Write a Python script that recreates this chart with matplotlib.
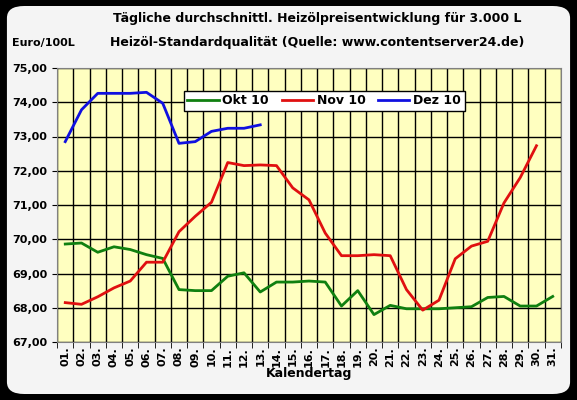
import matplotlib
matplotlib.use("Agg")
import matplotlib.pyplot as plt
from matplotlib.patches import FancyBboxPatch

days = [f"{d:02d}." for d in range(1, 32)]
okt = [69.86, 69.89, 69.62, 69.78, 69.70, 69.55, 69.44, 68.53, 68.50, 68.50, 68.92, 69.02, 68.46, 68.75,
       68.75, 68.78, 68.75, 68.05, 68.50, 67.80, 68.07, 67.97, 67.97, 67.97, 68.00, 68.03, 68.30, 68.33,
       68.05, 68.05, 68.33]
nov = [68.15, 68.10, 68.32, 68.58, 68.78, 69.33, 69.33, 70.22, 70.67, 71.08, 72.24, 72.15, 72.17, 72.15,
       71.50, 71.15, 70.18, 69.52, 69.52, 69.55, 69.52, 68.53, 67.93, 68.22, 69.43, 69.80, 69.94, 71.06,
       71.80, 72.73]
dez = [72.85, 73.78, 74.26, 74.26, 74.26, 74.29, 73.97, 72.80, 72.85, 73.15, 73.24, 73.24, 73.34]

fig = plt.figure(figsize=(5.77, 4.0), dpi=100)
fig.patch.set_facecolor("black")
fig.patches.append(FancyBboxPatch((0.012, 0.015), 0.976, 0.97, boxstyle="round,pad=0,rounding_size=0.03",
                                  transform=fig.transFigure, facecolor="#f4f4f4", edgecolor="none", zorder=-10))
ax = fig.add_axes([0.099, 0.145, 0.873, 0.685])
ax.set_zorder(5)
ax.set_facecolor("#ffffc0")
x = list(range(1, 32))
ax.plot(x[:len(okt)], okt, color="#108010", lw=2, label="Okt 10")
ax.plot(x[:len(nov)], nov, color="#e01010", lw=2, label="Nov 10")
ax.plot(x[:len(dez)], dez, color="#1010e0", lw=2, label="Dez 10")
ax.set_xlim(0.5, 31.5)
ax.set_ylim(67, 75)
ax.set_yticks([67 + i for i in range(9)])
ax.set_yticklabels([f"{67+i},00" for i in range(9)], fontsize=8, fontweight="bold")
ax.set_xticks(x)
ax.set_xticklabels(days, rotation=90, fontsize=8, fontweight="bold")
ax.set_xticks([i + 0.5 for i in range(0, 32)], minor=True)
ax.tick_params(axis="x", which="major", length=0)
ax.tick_params(axis="x", which="minor", length=4)
ax.grid(True, axis="x", which="minor", color="black", lw=1)
ax.grid(True, axis="y", which="major", color="black", lw=1)
ax.set_axisbelow(True)
for s in ax.spines.values():
    s.set_color("#808080")
ax.set_xlabel("Kalendertag", fontsize=9, fontweight="bold", labelpad=0)
leg = ax.legend(loc="upper center", bbox_to_anchor=(0.53, 0.94), ncol=3, frameon=True, fancybox=False,
                edgecolor="black", prop={"weight": "bold", "size": 9}, handlelength=2.5,
                borderpad=0.3, columnspacing=1.0, handletextpad=0.3, framealpha=1)
leg.get_frame().set_linewidth(1)
fig.text(0.55, 0.945, "Tägliche durchschnittl. Heizölpreisentwicklung für 3.000 L", ha="center",
         fontsize=9, fontweight="bold")
fig.text(0.55, 0.885, "Heizöl-Standardqualität (Quelle: www.contentserver24.de)", ha="center",
         fontsize=9, fontweight="bold")
fig.text(0.02, 0.885, "Euro/100L", fontsize=8, fontweight="bold")
fig.savefig("out.png", dpi=100, facecolor=fig.get_facecolor())
